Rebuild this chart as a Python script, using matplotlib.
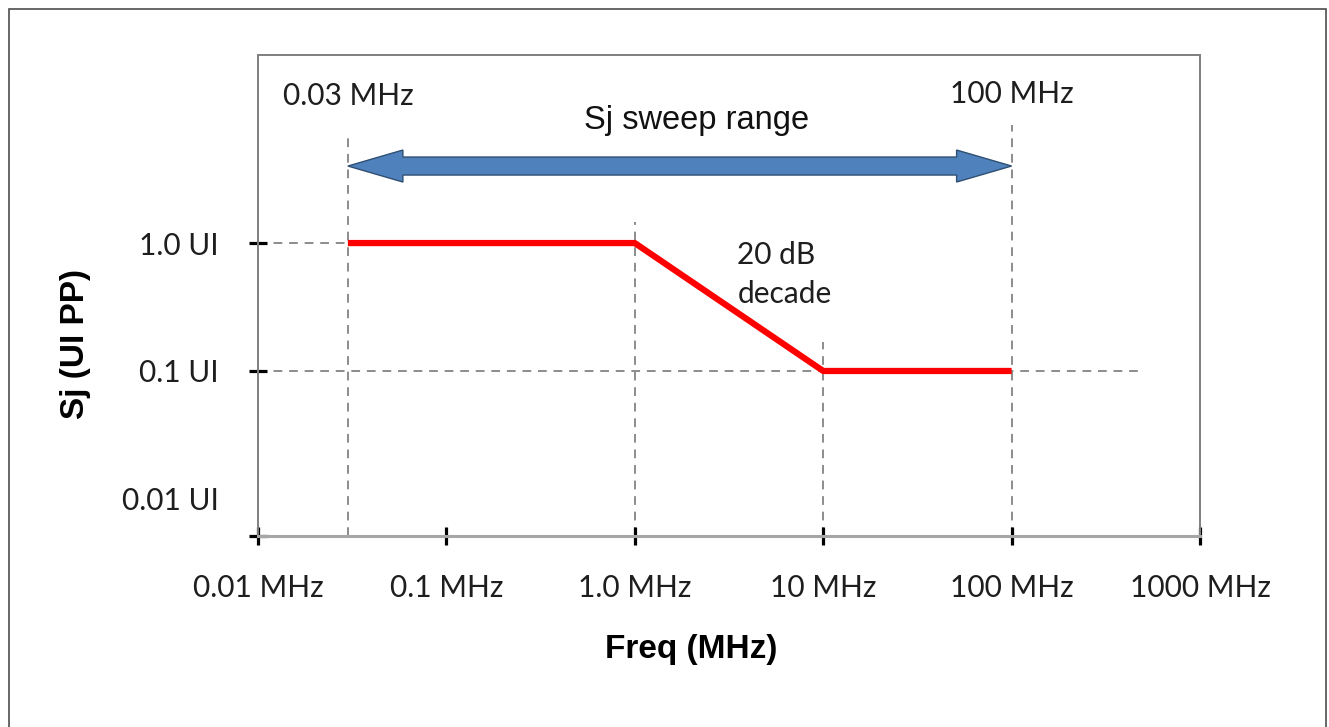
## Sj jitter tolerance mask

import numpy as np
import matplotlib
matplotlib.use("Agg")
import matplotlib.pyplot as plt
from matplotlib.patches import Polygon, Rectangle
from matplotlib.transforms import IdentityTransform

# mask corner points (MHz, UI)
freq = [0.03, 1.0, 10.0, 100.0]
sj = [1.0, 1.0, 0.1, 0.1]

x_ticks = [0.01, 0.1, 1.0, 10.0, 100.0, 1000.0]
x_labels = ["0.01 MHz", "0.1 MHz", "1.0 MHz", "10 MHz", "100 MHz", "1000 MHz"]
y_ticks = [0.01, 0.1, 1.0]
y_labels = ["0.01 UI", "0.1 UI", "1.0 UI"]

sweep_lo = 0.03
sweep_hi = 100.0

grey = "#7f7f7f"
label_font = "Lato"

fig = plt.figure(figsize=(13.29, 7.27), dpi=100)
ax = fig.add_axes([258 / 1329, 1 - 536 / 727, 942 / 1329, 481 / 727])
ax.set_xscale("log")
ax.set_yscale("log")
ax.set_xlim(0.01, 1000)
ylo, yhi = 10 ** -2.29, 10 ** 1.47
ax.set_ylim(ylo, yhi)

# frame
for s in ["top", "right", "left"]:
    ax.spines[s].set_color(grey)
    ax.spines[s].set_linewidth(1.4)
ax.spines["bottom"].set_color("#a6a6a6")
ax.spines["bottom"].set_linewidth(2.2)

# dashed guide lines
dash = dict(color="#8c8c8c", lw=1.4, ls=(0, (4.5, 3.5)), zorder=1)
ax.plot([0.01, sweep_lo], [1.0, 1.0], **dash)
ax.plot([0.01, 500], [0.1, 0.1], **dash)
ax.plot([sweep_lo, sweep_lo], [ylo, 6.7], **dash)
ax.plot([1.0, 1.0], [ylo, 1.46], **dash)
ax.plot([10.0, 10.0], [ylo, 0.168], **dash)
ax.plot([sweep_hi, sweep_hi], [ylo, 8.4], **dash)

# mask
ax.plot(freq, sj, color="#ff0000", lw=4.5, solid_capstyle="butt", zorder=3)

# ticks
ax.set_xticks(x_ticks)
ax.set_xticklabels(x_labels)
ax.set_yticks([ylo] + y_ticks)
ax.set_yticklabels([""] + y_labels)
ax.minorticks_off()
ax.tick_params(axis="both", direction="inout", length=13, width=2.3, color="black")
ax.tick_params(axis="x", pad=21, labelsize=21.5)
ax.tick_params(axis="y", pad=22, labelsize=21.5)
ax.yaxis.get_major_ticks()[1].tick1line.set_visible(False)
for t in ax.get_xticklabels() + ax.get_yticklabels():
    t.set_fontfamily(label_font)
    t.set_color("#1e1e1e")

ax.set_xlabel("Freq (MHz)", fontsize=24, fontweight="bold",
              fontfamily="Liberation Sans", va="center")
ax.set_ylabel("Sj (UI PP)", fontsize=24, fontweight="bold",
              fontfamily="Liberation Sans", va="center")
ax.xaxis.set_label_coords(0.46, -0.237)
ax.yaxis.set_label_coords(-0.194, 0.40)

# annotations
ax.text(sweep_lo, 14, "0.03 MHz", ha="center", va="center",
        fontsize=21.5, fontfamily=label_font, color="#1e1e1e")
ax.text(sweep_hi, 14.5, "100 MHz", ha="center", va="center",
        fontsize=21.5, fontfamily=label_font, color="#1e1e1e")
ax.text(0.466, 0.863, "Sj sweep range", transform=ax.transAxes, ha="center",
        va="center", fontsize=23.5, fontfamily="Liberation Sans", color="#111111")
ax.text(3.5, 1.04, "20 dB\ndecade", ha="left", va="top", fontsize=21.5,
        fontfamily=label_font, color="#1e1e1e", linespacing=1.5)

# double-headed block arrow for the sweep range
arrow_y = 4.0
(x0, yc), (x1, _) = ax.transData.transform([(sweep_lo, arrow_y), (sweep_hi, arrow_y)])
head_len, head_half, shaft_half = 55, 16, 9
pts = [
    (x0, yc),
    (x0 + head_len, yc + head_half),
    (x0 + head_len, yc + shaft_half),
    (x1 - head_len, yc + shaft_half),
    (x1 - head_len, yc + head_half),
    (x1, yc),
    (x1 - head_len, yc - head_half),
    (x1 - head_len, yc - shaft_half),
    (x0 + head_len, yc - shaft_half),
    (x0 + head_len, yc - head_half),
]
fig.add_artist(Polygon(pts, closed=True, transform=IdentityTransform(),
                       facecolor="#4f81bd", edgecolor="#2f4f73", lw=1.0, zorder=4))

# outer picture border
fig.add_artist(Rectangle((9 / 1329, -0.01), 1317 / 1329, 1 - 9 / 727 + 0.01,
                         transform=fig.transFigure, fill=False,
                         edgecolor="#4d4d4d", lw=1.2))

fig.savefig("out.png", dpi=100)
